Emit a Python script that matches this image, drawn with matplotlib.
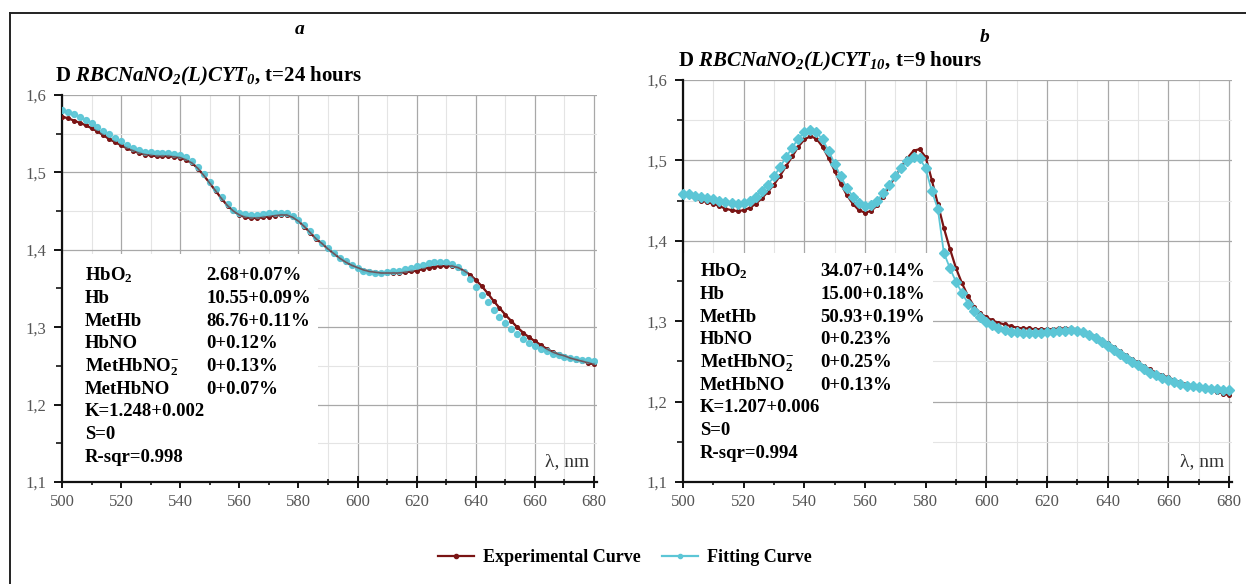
import matplotlib
matplotlib.use("Agg")
import matplotlib.pyplot as plt
from matplotlib.patches import Rectangle
from matplotlib.lines import Line2D
from matplotlib.ticker import MultipleLocator, FuncFormatter

plt.rcParams['font.family'] = ['Liberation Serif', 'DejaVu Serif']
plt.rcParams['mathtext.fontset'] = 'custom'
plt.rcParams['mathtext.rm'] = 'Liberation Serif:bold:italic'
plt.rcParams['mathtext.it'] = 'Liberation Serif:bold:italic'
plt.rcParams['mathtext.bf'] = 'Liberation Serif:bold'

# wavelength grid, nm (every 2 nm)
wl = list(range(500, 682, 2))

# panel a, t=24 hours
exp_a = [1.572, 1.570, 1.567, 1.564, 1.561, 1.557, 1.553, 1.548, 1.543, 1.539,
         1.535, 1.531, 1.528, 1.525, 1.523, 1.522, 1.521, 1.521, 1.521, 1.520,
         1.519, 1.516, 1.512, 1.505, 1.496, 1.486, 1.476, 1.466, 1.457, 1.450,
         1.445, 1.442, 1.441, 1.441, 1.442, 1.443, 1.444, 1.445, 1.445, 1.442,
         1.437, 1.430, 1.422, 1.414, 1.408, 1.401, 1.395, 1.389, 1.384, 1.380,
         1.377, 1.374, 1.372, 1.371, 1.370, 1.370, 1.370, 1.370, 1.371, 1.372,
         1.373, 1.375, 1.377, 1.378, 1.379, 1.379, 1.379, 1.377, 1.373, 1.368,
         1.361, 1.353, 1.344, 1.334, 1.325, 1.316, 1.308, 1.300, 1.293, 1.287,
         1.282, 1.277, 1.272, 1.268, 1.265, 1.263, 1.260, 1.258, 1.256, 1.254,
         1.252]
fit_a = [1.580, 1.578, 1.575, 1.572, 1.568, 1.564, 1.559, 1.554, 1.549, 1.544,
         1.540, 1.536, 1.532, 1.529, 1.527, 1.526, 1.525, 1.525, 1.525, 1.524,
         1.523, 1.520, 1.515, 1.507, 1.498, 1.488, 1.478, 1.468, 1.459, 1.452,
         1.448, 1.446, 1.445, 1.445, 1.446, 1.447, 1.448, 1.448, 1.447, 1.444,
         1.439, 1.432, 1.424, 1.416, 1.409, 1.402, 1.396, 1.390, 1.385, 1.380,
         1.376, 1.373, 1.371, 1.370, 1.370, 1.371, 1.372, 1.373, 1.375, 1.377,
         1.379, 1.381, 1.383, 1.384, 1.384, 1.384, 1.382, 1.378, 1.371, 1.362,
         1.352, 1.342, 1.332, 1.322, 1.313, 1.305, 1.298, 1.291, 1.285, 1.280,
         1.276, 1.272, 1.269, 1.266, 1.264, 1.262, 1.260, 1.259, 1.258, 1.257,
         1.256]

# panel b, t=9 hours
exp_b = [1.459, 1.456, 1.453, 1.450, 1.448, 1.446, 1.443, 1.440, 1.438, 1.437,
         1.438, 1.441, 1.446, 1.453, 1.461, 1.470, 1.481, 1.493, 1.505, 1.517,
         1.526, 1.530, 1.527, 1.517, 1.503, 1.487, 1.471, 1.457, 1.446, 1.438,
         1.435, 1.437, 1.444, 1.455, 1.468, 1.480, 1.492, 1.503, 1.512, 1.514,
         1.504, 1.476, 1.446, 1.416, 1.390, 1.366, 1.347, 1.331, 1.318, 1.310,
         1.305, 1.301, 1.298, 1.296, 1.294, 1.292, 1.291, 1.291, 1.290, 1.290,
         1.290, 1.290, 1.291, 1.291, 1.291, 1.290, 1.288, 1.285, 1.281, 1.277,
         1.273, 1.268, 1.263, 1.258, 1.253, 1.249, 1.244, 1.240, 1.236, 1.233,
         1.230, 1.227, 1.224, 1.222, 1.220, 1.218, 1.216, 1.214, 1.212, 1.210,
         1.208]
fit_b = [1.458, 1.458, 1.456, 1.455, 1.453, 1.452, 1.450, 1.448, 1.447, 1.446,
         1.447, 1.450, 1.455, 1.462, 1.470, 1.480, 1.492, 1.504, 1.516, 1.527,
         1.535, 1.538, 1.535, 1.526, 1.512, 1.496, 1.480, 1.466, 1.455, 1.447,
         1.443, 1.444, 1.450, 1.459, 1.470, 1.481, 1.491, 1.499, 1.504, 1.503,
         1.490, 1.462, 1.440, 1.385, 1.366, 1.349, 1.335, 1.322, 1.313, 1.305,
         1.299, 1.295, 1.291, 1.289, 1.287, 1.286, 1.285, 1.285, 1.285, 1.285,
         1.286, 1.287, 1.288, 1.288, 1.289, 1.288, 1.286, 1.283, 1.279, 1.274,
         1.269, 1.264, 1.259, 1.254, 1.249, 1.245, 1.240, 1.236, 1.233, 1.229,
         1.227, 1.224, 1.222, 1.220, 1.219, 1.218, 1.217, 1.216, 1.216, 1.215,
         1.215]

names = ["HbO$_\\mathbf{2}$", "Hb", "MetHb", "HbNO",
         "MetHbNO$_\\mathbf{2}^\\mathbf{-}$", "MetHbNO"]
vals_a = ["2.68+0.07%", "10.55+0.09%", "86.76+0.11%", "0+0.12%", "0+0.13%", "0+0.07%"]
vals_b = ["34.07+0.14%", "15.00+0.18%", "50.93+0.19%", "0+0.23%", "0+0.25%", "0+0.13%"]
extra_a = ["K=1.248+0.002", "S=0", "R-sqr=0.998"]
extra_b = ["K=1.207+0.006", "S=0", "R-sqr=0.994"]

EXP_COLOR = "#7a1414"
FIT_COLOR = "#5cc6d6"
W, H = 1246, 584


def fx(x):
    return x / W


def fy(y):
    return 1 - y / H


def style_axes(ax):
    ax.set_xlim(500, 681)
    ax.set_ylim(1.1, 1.6)
    ax.xaxis.set_major_locator(MultipleLocator(20))
    ax.xaxis.set_minor_locator(MultipleLocator(10))
    ax.yaxis.set_major_locator(MultipleLocator(0.1))
    ax.yaxis.set_minor_locator(MultipleLocator(0.05))
    ax.yaxis.set_major_formatter(FuncFormatter(lambda v, p: f"{v:.1f}".replace(".", ",")))
    ax.grid(which="major", color="#a8a8a8", linewidth=0.9)
    ax.grid(which="minor", color="#e4e4e4", linewidth=0.8)
    ax.set_axisbelow(True)
    for s in ["top", "right"]:
        ax.spines[s].set_visible(False)
    for s in ["left", "bottom"]:
        ax.spines[s].set_linewidth(1.6)
        ax.spines[s].set_color("#111111")
    ax.tick_params(axis="x", which="major", direction="inout", length=8, width=1.3,
                   labelsize=12, labelcolor="#555555", pad=5)
    ax.tick_params(axis="x", which="minor", direction="inout", length=5, width=1.1)
    ax.tick_params(axis="y", which="major", direction="out", length=6, width=1.3,
                   labelsize=12, labelcolor="#555555", pad=5)
    ax.tick_params(axis="y", which="minor", direction="out", length=4, width=1.1)
    ax.text(0.985, 0.03, "λ, nm", transform=ax.transAxes, ha="right", va="bottom",
            fontsize=14, color="#333333")


def stats_block(ax, x0, y_top, names, vals, extra, xv, box):
    ax.add_patch(Rectangle((500, 1.1), box[0] - 500, box[1] - 1.1, facecolor="white",
                           edgecolor="none", zorder=1.5))
    step = 22.75
    rows = [(n, v) for n, v in zip(names, vals)] + [(e, "") for e in extra]
    for i, (n, v) in enumerate(rows):
        yb = y_top + i * step + 5
        fig.text(fx(x0), fy(yb), n, fontsize=13.5, fontweight="bold", va="baseline")
        if v:
            fig.text(fx(xv), fy(yb), v, fontsize=13.5, fontweight="bold", va="baseline")


fig = plt.figure(figsize=(W / 100, H / 100), dpi=100)

ax_a = fig.add_axes([fx(62), fy(482), (597 - 62) / W, (482 - 95) / H])
ax_b = fig.add_axes([fx(683), fy(482), (1232 - 683) / W, (482 - 80) / H])
style_axes(ax_a)
style_axes(ax_b)

ax_a.plot(wl, exp_a, color=EXP_COLOR, lw=1.6, marker="o", ms=2.6, zorder=3)
ax_a.plot(wl, fit_a, color=FIT_COLOR, lw=0, marker="o", ms=4.2, zorder=4, alpha=0.95)
ax_a.plot(wl, exp_a, color=EXP_COLOR, lw=1.2, zorder=5, alpha=0.6)

ax_b.plot(wl, exp_b, color=EXP_COLOR, lw=1.6, marker="o", ms=2.6, zorder=3)
ax_b.plot(wl, fit_b, color=FIT_COLOR, lw=1.3, marker="D", ms=5, zorder=4, clip_on=False)

stats_block(ax_a, 85, 275, names, vals_a, extra_a, 206, (586.5, 1.395))
stats_block(ax_b, 700, 271, names, vals_b, extra_b, 820, (582.5, 1.385))

# headings
fig.text(fx(300), fy(30), "a", fontsize=14, fontweight="bold", fontstyle="italic", ha="center", va="center")
fig.text(fx(985), fy(37), "b", fontsize=14, fontweight="bold", fontstyle="italic", ha="center", va="center")
fig.text(fx(55), fy(81), r"D $RBCNaNO_{2}(L)CYT_{0}$, t=24 hours", fontsize=15,
         fontweight="bold", va="baseline")
fig.text(fx(678), fy(66), r"D $RBCNaNO_{2}(L)CYT_{10}$, t=9 hours", fontsize=15,
         fontweight="bold", va="baseline")

# outer frame (top and left only)
fig.add_artist(Line2D([fx(10), 1], [fy(13), fy(13)], color="#222222", lw=1.4))
fig.add_artist(Line2D([fx(10), fx(10)], [fy(13), 0], color="#222222", lw=1.4))

handles = [Line2D([], [], color=EXP_COLOR, lw=1.6, marker="o", ms=3),
           Line2D([], [], color=FIT_COLOR, lw=1.6, marker="o", ms=3)]
fig.legend(handles, ["Experimental Curve", "Fitting Curve"], loc="center",
           bbox_to_anchor=(fx(625), fy(558)), ncol=2, frameon=False,
           prop={"weight": "bold", "size": 13}, handlelength=2.0, columnspacing=1.2,
           handletextpad=0.5)

fig.savefig("out.png", dpi=100)
